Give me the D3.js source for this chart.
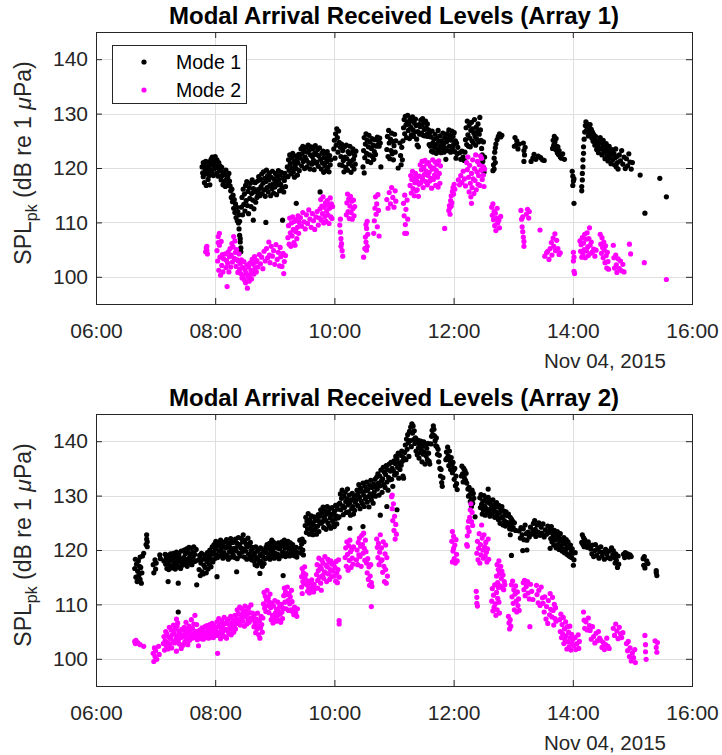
<!DOCTYPE html>
<html><head><meta charset="utf-8">
<script src="https://cdn.jsdelivr.net/npm/d3@7"></script>
<style>body{margin:0;background:#fff}svg{display:block}text{font-family:"Liberation Sans",Arial,Helvetica,sans-serif}</style>
</head><body><svg id="c" width="722" height="755"></svg>
<script>
const panelTitles = ["Modal Arrival Received Levels (Array 1)", "Modal Arrival Received Levels (Array 2)"];
const seriesNames = ["Mode 1", "Mode 2"];
const seriesColors = ["#000000", "#ff00ff"];
const yDomain = [95, 145];
const yTicks = [100, 110, 120, 130, 140];
const xStartHour = 6, xEndHour = 16;
const xTickHours = [6, 8, 10, 12, 14, 16];
const dateLabel = "Nov 04, 2015";

// [hour of day, SPL dB]
const a1Mode1 = [
[7.78,120.2],[7.79,119.1],[7.80,121.0],[7.80,118.4],[7.81,120.6],[7.82,117.3],[7.83,119.8],[7.84,121.2],[7.84,118.9],[7.85,116.8],[7.86,120.4],[7.87,119.2],[7.88,117.9],[7.88,121.1],[7.89,120.1],[7.90,118.6],[7.91,116.9],[7.91,119.7],
[7.92,120.8],[7.93,121.6],[7.94,119.3],[7.95,122.0],[7.96,120.5],[7.97,118.6],[7.98,121.4],[7.99,119.9],[8.00,122.1],[8.01,120.7],[8.02,119.0],[8.03,121.5],[8.04,120.2],[8.05,118.5],[8.06,121.0],[8.07,119.6],[8.08,120.4],
[8.09,119.4],[8.10,117.8],[8.11,120.1],[8.12,118.6],[8.13,116.9],[8.14,119.2],[8.15,117.5],[8.16,118.8],[8.17,116.6],[8.18,119.6],[8.19,117.9],[8.20,116.8],[8.21,118.3],[8.22,117.1],[8.23,119.0],[8.24,117.6],[8.25,116.7],
[8.26,115.8],[8.27,114.6],[8.28,116.1],[8.29,113.8],[8.30,115.0],[8.31,112.6],[8.32,114.2],[8.33,111.8],[8.34,113.4],[8.35,110.9],[8.36,112.8],[8.37,110.3],[8.38,112.0],[8.39,109.9],[8.40,111.4],[8.41,110.2],
[8.40,108.8],[8.41,107.6],[8.42,106.4],[8.43,105.3],[8.43,104.6],[8.42,107.0],
[8.44,112.8],[8.45,114.6],[8.46,111.4],[8.47,116.1],[8.48,113.3],[8.49,115.2],[8.50,112.1],[8.51,116.8],[8.52,114.0],[8.53,117.5],[8.54,113.1],[8.55,115.7],[8.56,111.6],[8.57,116.4],[8.58,114.4],[8.59,117.2],[8.60,112.9],[8.61,115.3],[8.62,117.8],[8.63,114.1],[8.64,116.2],[8.65,112.5],[8.66,115.6],[8.67,117.3],[8.68,113.7],[8.69,116.0],[8.70,114.6],
[8.64,110.4],[8.85,110.0],[9.13,110.4],
[8.71,117.6],[8.72,115.4],[8.73,118.4],[8.74,116.1],[8.75,114.9],[8.76,117.9],[8.77,116.6],[8.78,118.9],[8.79,115.3],[8.80,117.2],[8.81,119.3],[8.82,116.0],[8.83,118.1],[8.84,114.8],[8.85,117.5],[8.86,119.6],[8.87,116.4],[8.88,118.6],[8.89,115.6],[8.90,117.8],[8.91,119.1],[8.92,116.8],[8.93,114.9],[8.94,118.3],[8.95,116.2],[8.96,119.4],[8.97,117.1],[8.98,115.4],[8.99,118.0],[9.00,116.5],[9.01,119.0],[9.02,117.4],[9.03,115.1],[9.04,118.5],[9.05,116.9],[9.06,119.5],[9.07,117.8],[9.08,115.8],[9.09,118.7],[9.10,117.0],[9.11,119.2],[9.12,116.3],[9.14,118.2],[9.15,115.6],[9.16,117.7],[9.17,119.0],[9.18,116.6],[9.19,118.4],
[9.21,120.2],[9.22,118.4],[9.23,121.5],[9.24,119.6],[9.25,122.4],[9.26,120.8],[9.27,118.9],[9.28,121.9],[9.29,120.0],[9.30,122.7],[9.31,119.2],[9.32,121.2],[9.33,118.3],[9.34,120.6],[9.35,122.2],[9.36,119.9],[9.37,121.6],[9.38,118.7],[9.39,120.9],[9.40,122.5],[9.41,119.5],[9.36,113.5],
[9.43,121.8],[9.44,123.5],[9.45,120.4],[9.46,122.6],[9.47,124.0],[9.48,121.2],[9.49,123.1],[9.50,119.9],[9.51,122.0],[9.52,123.8],[9.53,121.5],[9.54,120.2],[9.55,122.9],[9.56,124.2],[9.57,121.0],[9.58,123.3],[9.59,119.8],[9.60,122.4],[9.61,123.9],[9.62,120.7],[9.63,122.1],[9.64,123.6],[9.65,121.4],[9.66,119.7],[9.67,122.8],[9.68,124.1],[9.69,120.9],[9.70,122.5],[9.71,121.1],[9.72,123.4],[9.73,120.3],[9.74,122.2],[9.75,123.7],[9.76,115.6],
[9.77,121.6],[9.78,119.8],[9.79,122.7],[9.80,120.9],[9.81,123.1],[9.82,119.2],[9.83,121.9],[9.84,120.4],[9.85,122.4],[9.86,119.5],[9.87,121.2],[9.88,123.0],[9.89,120.1],[9.90,121.8],[9.91,119.3],[9.92,122.3],[9.93,120.6],[9.94,121.5],
[9.99,123.5],[10.00,125.1],[10.01,121.8],[10.02,126.3],[10.03,124.2],[10.04,127.2],[10.05,125.6],[10.06,122.9],[10.07,126.8],[10.08,124.7],[10.09,120.6],[10.10,123.8],
[10.11,122.1],[10.12,124.4],[10.13,120.5],[10.14,123.2],[10.15,121.4],[10.16,119.3],[10.17,123.9],[10.18,122.0],[10.19,120.1],[10.20,124.2],[10.21,121.7],[10.22,119.6],[10.23,123.0],[10.24,120.8],[10.25,122.6],[10.26,124.0],[10.27,121.2],[10.28,119.2],[10.29,122.8],[10.30,120.4],[10.31,123.5],[10.32,121.6],[10.33,119.8],[10.34,122.3],[10.35,120.7],[10.36,123.1],
[10.48,120.2],[10.50,119.1],
[10.49,123.2],[10.50,125.6],[10.51,121.9],[10.52,124.4],[10.53,126.3],[10.54,122.7],[10.55,125.1],[10.56,121.2],[10.57,123.9],[10.58,126.0],[10.59,122.4],[10.60,124.8],[10.61,121.0],[10.62,123.6],[10.63,125.4],[10.64,122.1],[10.65,124.2],[10.66,121.6],[10.67,123.0],[10.68,125.2],[10.69,122.5],[10.70,124.0],
[10.72,125.7],[10.73,124.3],[10.74,125.1],[10.75,124.0],[10.76,125.5],[10.77,124.6],[10.78,120.2],
[10.88,123.4],[10.89,125.8],[10.90,122.1],[10.91,126.9],[10.92,124.6],[10.93,121.7],[10.94,125.3],[10.95,123.2],[10.96,126.4],[10.97,122.6],[10.98,124.9],[10.99,121.5],[11.00,124.1],[11.01,126.2],[11.02,122.9],[11.03,125.0],[11.07,120.0],
[11.10,124.6],[11.11,122.3],[11.12,120.6],[11.13,123.8],[11.14,121.5],[11.15,125.0],
[11.16,127.4],[11.17,128.9],[11.18,126.3],[11.19,129.5],[11.20,127.9],[11.21,125.6],[11.22,128.5],[11.23,129.7],[11.24,126.9],[11.25,128.2],[11.26,125.4],[11.27,129.1],[11.28,127.5],[11.29,126.1],[11.30,128.7],[11.31,129.4],[11.32,127.0],[11.33,125.8],[11.34,128.3],[11.35,126.6],[11.36,129.0],[11.37,127.8],[11.38,125.3],[11.39,124.2],[11.40,126.7],[11.41,123.9],[11.42,128.0],[11.43,126.2],
[11.44,127.6],[11.45,128.8],[11.46,126.4],[11.47,127.9],[11.48,129.1],[11.49,126.0],[11.50,128.3],[11.51,127.1],[11.52,125.9],[11.53,128.6],[11.54,127.4],[11.55,126.2],[11.56,128.1],[11.57,125.8],[11.58,127.0],[11.59,124.3],
[11.60,126.5],[11.61,124.0],[11.62,125.7],[11.63,123.1],[11.64,126.8],[11.65,124.6],[11.66,122.9],[11.67,125.3],[11.68,123.8],[11.69,126.2],[11.70,124.3],[11.71,122.7],[11.72,125.5],[11.73,123.5],[11.74,126.9],[11.75,124.9],[11.76,123.0],[11.77,125.9],[11.78,124.1],[11.79,122.8],[11.80,125.0],[11.81,123.4],[11.82,126.4],[11.83,124.4],[11.84,122.9],[11.85,125.6],[11.86,123.7],[11.87,121.6],
[11.88,124.8],[11.89,126.3],[11.90,123.2],[11.91,125.4],[11.92,127.0],[11.93,124.0],[11.94,126.0],[11.95,122.9],[11.96,125.1],[11.97,126.8],[11.98,123.6],[11.99,125.8],[12.00,124.3],[12.01,126.5],[12.02,123.0],[12.03,125.0],[12.04,121.8],[12.05,124.6],[12.06,122.6],[12.07,123.8],
[12.10,122.8],[12.12,121.6],[12.14,123.1],[12.16,122.0],[12.18,121.4],[12.19,122.9],
[12.20,125.2],[12.21,127.4],[12.22,124.3],[12.23,128.6],[12.24,126.1],[12.25,124.0],[12.26,127.8],[12.27,125.5],[12.28,123.9],[12.29,126.9],[12.30,128.4],[12.31,125.0],[12.32,127.2],[12.33,124.6],[12.34,126.4],[12.35,128.9],[12.36,125.8],[12.37,124.2],[12.38,127.5],[12.39,125.3],[12.40,126.7],[12.41,128.1],[12.42,124.8],[12.43,126.2],[12.44,129.3],[12.45,127.0],[12.46,125.1],
[12.47,123.6],[12.48,122.4],[12.49,121.2],[12.50,120.1],[12.51,119.2],[12.52,122.0],[12.50,124.8],
[12.66,119.5],[12.67,120.6],[12.68,121.8],[12.69,122.9],[12.70,123.7],[12.71,124.4],[12.73,125.2],[12.75,125.8],[12.77,126.3],[12.79,125.7],[12.81,126.0],[12.70,121.0],[12.68,119.8],
[13.02,124.0],[13.03,125.6],[13.05,124.2],[13.06,125.0],[13.08,123.5],[13.10,124.4],
[13.17,124.6],[13.18,123.2],[13.19,122.4],[13.20,123.8],[13.18,121.2],[13.30,121.2],[13.33,121.8],[13.35,122.5],[13.38,121.6],[13.42,122.2],[13.46,121.9],[13.49,121.5],[13.52,121.4],
[13.66,123.6],[13.67,125.1],[13.68,124.2],[13.69,125.8],[13.70,124.8],[13.71,123.4],[13.72,125.4],[13.73,124.0],[13.74,122.8],[13.75,123.9],[13.76,122.5],[13.77,123.2],[13.79,122.0],[13.81,121.8],[13.83,122.6],[13.86,121.6],
[13.99,119.4],[14.00,118.5],[14.01,117.6],[14.00,116.8],[14.02,118.0],[14.02,113.5],
[14.15,115.8],[14.15,116.6],[14.16,117.8],[14.16,119.0],[14.17,120.2],[14.17,121.5],[14.18,122.7],[14.18,123.9],[14.19,125.3],[14.20,126.6],
[14.21,127.8],[14.22,128.5],[14.23,126.9],[14.24,128.1],[14.25,127.2],[14.26,125.9],[14.27,127.6],[14.28,126.4],[14.29,128.0],[14.30,126.0],[14.31,127.1],[14.32,125.5],[14.33,126.6],[14.34,124.9],[14.35,126.2],[14.36,125.3],[14.37,124.2],[14.38,125.8],[14.39,124.5],[14.40,123.4],[14.41,125.0],[14.42,124.0],[14.43,122.8],[14.44,124.6],
[14.46,125.6],[14.47,123.5],[14.48,124.7],[14.49,122.4],[14.50,123.9],[14.51,125.1],[14.52,122.9],[14.53,124.2],[14.54,121.7],[14.55,123.3],[14.56,124.5],[14.57,122.2],[14.58,123.7],[14.59,121.3],[14.60,122.8],[14.61,124.0],[14.62,121.9],[14.63,123.1],[14.64,120.8],[14.65,122.5],[14.66,123.4],[14.67,121.5],
[14.69,122.7],[14.70,120.6],[14.71,121.9],[14.72,123.5],[14.73,120.2],[14.74,122.1],[14.75,121.0],[14.76,119.8],[14.78,122.4],[14.80,121.3],[14.82,123.2],[14.84,120.7],[14.86,122.0],[14.88,119.9],[14.90,121.7],[14.92,120.4],[14.94,122.6],[14.96,121.1],[14.98,119.8],[15.00,121.0],
[15.13,118.7],[15.21,111.7],[15.46,118.1],[15.57,114.7]
];

const a1Mode2 = [
[7.84,104.6],[7.85,105.3],[7.86,104.9],[7.87,104.2],[7.86,105.6],
[8.03,104.8],[8.04,102.9],[8.05,107.4],[8.06,101.2],[8.07,105.8],[8.08,103.6],[8.09,100.3],[8.10,106.5],[8.11,102.1],[8.12,104.1],[8.13,100.9],[8.14,103.3],[8.05,106.3],[8.07,108.0],
[8.17,104.2],[8.18,101.7],[8.19,103.0],[8.20,98.2],[8.21,102.5],[8.22,104.6],[8.23,100.9],[8.24,103.7],[8.25,105.2],[8.26,101.8],[8.27,104.0],[8.28,106.1],[8.29,102.7],[8.30,105.5],[8.31,107.4],[8.32,103.4],[8.33,106.6],[8.34,104.5],[8.35,101.9],[8.36,105.0],[8.37,103.1],[8.38,100.8],[8.39,102.9],[8.40,104.2],[8.41,101.4],
[8.42,102.4],[8.43,100.6],[8.44,103.1],[8.45,99.8],[8.46,101.7],[8.47,100.2],[8.48,102.8],[8.49,99.4],[8.50,101.3],[8.51,98.9],[8.52,100.7],[8.53,102.2],[8.54,97.9],[8.55,100.0],[8.56,101.8],[8.57,99.2],[8.58,102.5],[8.59,100.4],[8.60,101.2],[8.61,99.6],[8.62,103.2],[8.63,101.0],[8.64,102.3],[8.65,100.5],[8.66,103.7],[8.67,101.6],[8.68,102.7],[8.69,100.9],
[8.70,103.0],[8.72,101.8],[8.74,104.1],[8.76,102.4],[8.78,103.6],[8.80,101.5],[8.82,104.7],[8.84,102.9],[8.86,105.2],[8.88,103.5],[8.90,106.4],[8.91,104.0],[8.92,102.6],[8.94,105.6],[8.96,103.8],[8.98,104.8],[9.00,102.3],[9.02,105.9],[9.04,103.2],[9.06,104.5],[9.08,102.0],[9.09,105.4],[9.10,103.7],[9.12,101.9],[9.14,104.3],[9.15,100.6],[9.16,102.8],[9.18,103.9],
[9.22,107.2],[9.23,109.4],[9.24,106.0],[9.25,110.8],[9.26,108.1],[9.27,105.6],[9.28,109.9],[9.29,107.5],[9.30,111.0],[9.31,108.7],[9.32,106.3],[9.33,110.2],[9.34,105.8],[9.35,108.3],[9.36,110.5],[9.37,107.0],[9.38,109.1],[9.39,111.2],[9.40,108.0],[9.41,110.0],
[9.43,110.9],[9.45,109.3],[9.47,111.8],[9.49,110.1],[9.51,108.8],[9.53,111.4],[9.55,109.8],[9.57,112.3],[9.59,110.6],[9.61,109.1],[9.63,111.6],[9.65,110.3],[9.67,108.7],[9.69,111.0],[9.71,112.0],[9.73,109.5],[9.75,110.8],
[9.76,112.5],[9.77,114.2],[9.78,110.4],[9.79,113.0],[9.80,111.6],[9.81,114.7],[9.82,109.9],[9.83,112.8],[9.84,111.1],[9.85,113.6],[9.86,110.2],[9.87,112.1],[9.88,114.0],[9.89,111.4],[9.90,113.2],[9.91,109.8],[9.92,112.6],[9.93,114.5],[9.94,111.0],[9.95,113.4],[9.96,110.7],[9.97,112.9],
[10.09,109.5],[10.10,108.2],[10.11,107.0],[10.12,106.1],[10.13,104.8],[10.14,103.8],[10.11,105.6],[10.10,110.6],
[10.20,111.4],[10.21,113.6],[10.22,115.2],[10.23,112.0],[10.24,114.3],[10.25,110.7],[10.26,113.0],[10.27,114.8],[10.28,111.8],[10.29,113.9],[10.30,110.6],[10.31,112.5],[10.32,114.1],[10.33,111.2],[10.34,112.9],
[10.49,103.6],[10.51,105.2],[10.52,107.3],[10.53,106.4],[10.54,108.9],[10.55,110.2],[10.56,107.8],[10.55,105.6],[10.53,109.6],[10.54,104.9],
[10.66,108.0],[10.67,110.3],[10.68,112.6],[10.69,114.7],[10.70,111.5],[10.71,113.4],[10.72,109.2],[10.73,115.1],[10.74,112.2],[10.75,107.5],
[10.88,114.2],[10.90,112.6],[10.92,115.5],[10.94,113.4],[10.96,116.4],[10.98,114.6],[11.00,112.8],[11.02,115.8],[11.03,113.9],
[11.16,113.5],[11.17,111.2],[11.18,115.0],[11.19,109.6],[11.20,112.4],[11.21,108.0],[11.22,114.1],[11.23,110.6],[11.18,108.0],
[11.27,116.8],[11.28,118.6],[11.29,115.4],[11.30,117.9],[11.31,119.4],[11.32,116.2],[11.33,118.2],[11.34,114.9],[11.35,117.3],[11.36,119.0],[11.37,115.8],[11.38,117.6],[11.39,116.0],[11.40,118.4],[11.41,114.8],[11.42,117.0],
[11.43,118.5],[11.44,120.6],[11.45,117.3],[11.46,119.7],[11.47,121.2],[11.48,118.0],[11.49,116.4],[11.50,120.1],[11.51,118.8],[11.52,121.4],[11.53,117.5],[11.54,119.4],[11.55,120.8],[11.56,116.9],[11.57,118.6],[11.58,121.0],[11.59,119.2],[11.60,117.6],[11.61,120.3],[11.62,118.1],[11.63,116.3],[11.64,119.8],[11.65,121.5],[11.66,117.9],[11.67,120.0],[11.68,118.7],[11.69,121.1],[11.70,116.8],[11.71,119.5],[11.72,120.7],[11.73,118.3],[11.74,116.5],[11.75,121.3],[11.76,119.0],[11.77,117.2],[11.78,120.4],
[11.85,108.9],
[11.92,112.2],[11.93,113.1],[11.94,112.8],[11.95,114.0],[11.96,114.9],[11.97,113.6],[11.98,115.7],[11.99,116.4],[12.00,115.2],[12.01,117.0],[12.02,116.1],[11.94,111.5],[11.96,113.0],
[12.08,117.8],[12.10,116.9],[12.12,118.6],[12.14,117.3],[12.16,119.4],[12.18,118.0],[12.20,116.7],
[12.22,121.0],[12.23,119.7],[12.24,122.0],[12.25,118.3],[12.26,115.6],[12.27,120.5],[12.28,117.2],[12.29,114.7],[12.30,119.0],[12.31,116.4],[12.32,121.5],[12.33,118.0],[12.34,115.3],[12.35,119.9],[12.36,117.7],[12.37,122.4],[12.38,116.0],[12.39,119.3],[12.40,121.2],[12.41,117.0],[12.42,118.6],[12.43,120.6],[12.44,116.8],[12.45,122.2],[12.46,119.6],[12.47,121.8],[12.48,117.9],[12.49,120.3],[12.50,118.7],[12.51,116.6],[12.52,119.8],[12.30,113.5],
[12.64,112.8],[12.65,111.3],[12.66,113.4],[12.67,110.5],[12.68,112.0],[12.69,109.4],[12.70,111.7],[12.71,108.5],[12.72,110.8],[12.73,112.6],[12.74,109.9],[12.76,110.4],[12.77,109.0],[12.79,111.1],
[13.13,112.2],[13.14,110.6],[13.15,109.2],[13.16,108.3],[13.17,107.3],[13.18,106.5],[13.16,111.0],[13.18,105.6],[13.22,111.5],[13.24,112.4],[13.26,110.8],[13.27,112.0],
[13.45,108.6],
[13.53,103.8],[13.56,104.4],[13.58,104.7],[13.60,103.2],[13.62,105.2],[13.64,106.3],[13.65,104.0],[13.67,107.1],[13.68,105.6],[13.70,107.9],[13.71,104.8],[13.73,106.7],[13.75,105.2],[13.77,104.1],[13.79,104.4],
[14.01,104.5],[14.01,102.9],[14.02,101.0],[14.03,100.6],[14.02,103.6],
[14.12,106.6],[14.13,104.7],[14.14,105.9],[14.15,103.6],[14.16,107.2],[14.17,104.2],[14.18,106.2],[14.19,105.0],[14.20,107.8],[14.21,103.5],[14.22,106.9],[14.23,104.8],[14.24,108.1],[14.25,105.5],[14.26,103.9],[14.27,107.0],[14.28,109.0],[14.29,105.8],[14.30,104.3],[14.31,106.4],[14.33,104.6],[14.35,105.1],[14.37,103.8],[14.39,104.9],
[14.46,107.8],[14.47,106.0],[14.48,104.3],[14.49,107.2],[14.50,105.4],[14.51,103.5],[14.52,106.4],[14.53,104.9],[14.54,102.6],[14.55,105.7],[14.56,103.9],[14.57,101.6],[14.58,104.5],[14.59,102.8],[14.60,101.4],
[14.68,105.8],[14.69,103.5],[14.70,101.6],[14.72,104.0],[14.73,102.2],[14.74,100.8],[14.76,103.3],[14.78,101.5],[14.80,102.9],[14.82,101.1],[14.84,102.3],[14.86,100.9],
[14.95,106.0],[14.97,104.2],[15.20,102.6],[15.57,99.5]
];

const a2Mode1 = [
[6.65,116.6],[6.66,118.3],[6.67,115.0],[6.68,117.4],[6.69,114.2],[6.70,116.1],[6.71,118.0],[6.72,115.4],[6.73,117.0],[6.74,114.6],[6.75,116.8],[6.76,113.9],[6.77,115.8],[6.74,118.7],
[6.78,118.9],[6.80,119.4],[6.84,121.0],[6.85,122.0],[6.85,122.8],[6.86,121.5],[6.86,120.6],
[6.96,117.3],[6.97,115.8],[6.99,118.2],[7.00,116.5],[7.01,117.6],[7.07,119.1],[7.08,118.4],
[7.14,118.0],[7.16,119.2],[7.17,117.4],[7.18,118.6],[7.19,116.6],[7.20,119.0],[7.21,117.9],[7.22,116.4],[7.23,118.8],[7.24,117.2],[7.25,119.3],[7.26,118.1],[7.27,116.7],[7.28,118.5],[7.29,117.0],[7.30,119.4],[7.31,117.7],[7.32,118.9],[7.33,116.5],[7.34,118.2],[7.35,119.6],[7.36,117.3],[7.37,118.7],[7.38,116.9],[7.39,119.1],[7.40,117.8],[7.41,118.4],[7.42,116.6],[7.43,119.8],[7.44,118.0],[7.45,117.2],
[7.21,114.2],[7.38,113.9],[7.38,108.6],[7.69,113.6],
[7.47,118.6],[7.48,120.0],[7.49,117.4],[7.50,119.3],[7.51,118.1],[7.52,120.2],[7.53,117.0],[7.54,119.6],[7.55,118.4],[7.56,120.5],[7.57,117.6],[7.58,119.0],[7.59,118.2],[7.60,120.3],[7.61,117.3],[7.62,119.5],[7.63,118.7],[7.64,120.6],[7.65,117.9],[7.66,119.2],[7.67,118.0],[7.68,120.1],
[7.72,118.2],[7.73,116.4],[7.74,119.0],[7.75,115.3],[7.76,117.6],[7.77,119.4],[7.78,116.0],[7.79,118.3],[7.80,115.6],[7.81,117.2],[7.82,119.1],[7.83,116.8],[7.84,118.6],[7.85,115.8],[7.86,117.9],[7.87,119.5],[7.88,116.5],[7.89,118.8],[7.90,117.4],[7.91,120.0],[7.92,118.3],[7.93,116.9],[7.94,119.2],[7.95,120.6],[7.96,117.8],[8.03,115.1],
[7.97,119.6],[7.98,121.0],[7.99,118.4],[8.00,120.2],[8.01,121.6],[8.02,119.1],[8.03,120.7],[8.04,118.6],[8.05,121.3],[8.06,119.8],[8.07,120.9],[8.08,118.9],[8.09,121.8],[8.10,120.1],[8.11,119.3],[8.12,121.1],[8.13,118.5],[8.14,120.6],[8.15,119.5],[8.16,121.5],[8.17,118.8],[8.18,120.4],[8.19,121.9],[8.20,119.0],[8.21,120.8],[8.22,118.3],[8.23,121.2],[8.24,119.7],[8.25,120.5],[8.26,122.1],[8.27,118.7],[8.28,120.0],[8.29,121.4],
[8.30,119.2],[8.31,121.7],[8.32,120.3],[8.33,118.6],[8.34,122.0],[8.35,119.9],[8.36,121.3],[8.37,118.4],[8.38,120.7],[8.39,122.3],[8.40,119.4],[8.41,121.0],[8.42,118.9],[8.43,120.4],[8.44,122.1],[8.45,119.6],[8.46,121.5],[8.47,122.8],[8.48,120.2],[8.49,118.7],[8.50,121.8],[8.51,119.8],[8.52,121.1],[8.53,118.3],[8.54,120.6],[8.55,122.2],[8.56,119.2],[8.57,120.9],[8.58,118.5],[8.59,121.4],[8.60,119.9],[8.61,118.2],[8.62,120.5],[8.63,119.0],[8.36,116.0],
[8.64,120.3],[8.65,118.0],[8.66,119.4],[8.67,117.3],[8.68,120.6],[8.69,118.6],[8.70,117.1],[8.71,119.8],[8.72,118.2],[8.73,120.1],[8.74,117.6],[8.75,119.0],[8.76,120.4],[8.77,117.9],[8.78,119.3],[8.79,117.0],[8.80,118.8],[8.81,120.0],[8.82,117.5],[8.83,119.6],[8.84,118.4],[8.85,120.5],[8.75,115.7],
[8.86,119.5],[8.87,121.0],[8.88,118.6],[8.89,120.3],[8.90,119.1],[8.91,121.2],[8.92,118.3],[8.93,120.6],[8.94,119.7],[8.95,121.8],[8.96,118.9],[8.97,120.1],[8.98,121.4],[8.99,118.5],[9.00,120.8],[9.01,119.4],[9.02,121.0],[9.03,118.8],[9.04,120.4],[9.05,119.2],[9.06,121.3],[9.07,118.4],[9.08,120.2],
[9.10,120.7],[9.11,118.9],[9.12,121.5],[9.13,119.6],[9.14,120.9],[9.15,119.0],[9.16,121.8],[9.17,120.3],[9.18,118.8],[9.19,121.1],[9.20,119.4],[9.21,120.6],[9.22,121.6],[9.23,119.1],[9.24,120.2],[9.25,118.9],[9.26,121.3],[9.27,119.8],[9.28,120.5],[9.29,119.2],[9.30,121.0],[9.14,115.3],
[9.31,120.4],[9.32,119.0],[9.33,120.2],[9.34,118.9],[9.35,119.7],[9.36,120.5],[9.37,118.7],[9.38,119.5],
[9.42,121.8],[9.43,120.3],[9.44,119.4],[9.45,121.1],[9.46,122.0],[9.47,120.0],[9.48,119.1],[9.49,121.5],
[9.51,124.5],[9.52,126.0],[9.53,123.2],[9.54,125.3],[9.55,123.9],[9.56,126.7],[9.57,124.8],[9.58,122.9],[9.59,125.6],[9.60,124.0],[9.61,126.3],[9.62,123.5],[9.63,125.0],[9.64,122.8],[9.65,124.6],[9.66,126.1],[9.67,123.7],[9.68,125.4],[9.69,124.2],[9.70,122.9],[9.71,125.8],[9.72,124.4],[9.73,126.5],[9.74,123.4],[9.75,125.2],
[9.76,126.2],[9.77,127.4],[9.78,124.9],[9.79,126.8],[9.80,125.2],[9.81,127.9],[9.82,124.1],[9.83,126.0],[9.84,127.2],[9.85,125.5],[9.86,123.8],[9.87,126.6],[9.88,128.0],[9.89,125.0],[9.90,126.9],[9.91,124.5],[9.92,127.6],[9.93,125.9],[9.94,124.0],[9.95,126.4],[9.96,127.8],[9.97,125.3],[9.98,126.7],[9.99,124.6],[10.00,127.1],[10.01,125.7],[10.02,128.2],[10.03,126.3],[10.04,124.8],[10.05,127.5],[10.06,125.9],[10.07,128.4],[10.08,126.1],[10.00,124.3],
[10.09,128.6],[10.10,130.3],[10.11,127.4],[10.12,129.5],[10.13,131.0],[10.14,128.1],[10.15,126.5],[10.16,129.9],[10.17,127.8],[10.18,130.6],[10.19,128.9],[10.20,126.9],[10.21,129.4],[10.22,131.2],[10.23,128.3],[10.24,127.0],[10.25,130.1],[10.26,128.7],[10.27,126.4],[10.28,129.2],[10.29,127.6],[10.30,130.4],[10.31,128.0],[10.32,126.6],[10.33,129.6],[10.34,127.3],[10.35,128.8],[10.36,130.0],
[10.26,124.0],[10.48,124.3],
[10.37,129.3],[10.38,131.0],[10.39,128.2],[10.40,130.5],[10.41,132.0],[10.42,129.7],[10.43,127.6],[10.44,131.4],[10.45,129.0],[10.46,130.8],[10.47,128.5],[10.48,132.3],[10.49,130.1],[10.50,128.0],[10.51,131.7],[10.52,129.4],[10.53,130.9],[10.54,132.5],[10.55,128.8],[10.56,131.1],[10.57,129.8],[10.58,127.9],[10.59,131.9],[10.60,130.3],[10.61,132.8],[10.62,129.2],[10.63,131.5],[10.64,130.0],[10.65,128.6],[10.66,132.1],[10.67,130.7],[10.68,133.0],[10.69,129.9],[10.70,131.6],
[10.71,133.4],[10.72,131.2],[10.73,134.0],[10.74,132.3],[10.75,130.1],[10.76,133.6],[10.77,131.8],[10.78,134.7],[10.79,132.7],[10.80,130.6],[10.81,133.1],[10.82,135.2],[10.83,132.0],[10.84,134.3],[10.85,131.5],[10.86,133.9],[10.87,135.5],[10.88,132.5],[10.89,134.8],[10.90,131.0],[10.91,133.3],[10.92,135.8],[10.93,132.9],[10.94,134.5],[10.95,136.1],[10.96,133.0],[10.97,135.0],[10.98,131.7],
[10.77,126.4],[10.88,128.0],[11.05,127.4],
[10.99,134.6],[11.00,136.4],[11.01,133.8],[11.02,135.9],[11.03,137.2],[11.04,134.1],[11.05,136.7],[11.06,135.2],[11.07,137.8],[11.08,133.2],[11.09,136.0],[11.10,134.8],[11.11,137.4],[11.12,135.6],[11.13,138.2],[11.14,136.3],[11.15,133.6],[11.16,137.0],[11.16,133.2],
[11.18,137.9],[11.19,139.3],[11.20,136.6],[11.21,140.4],[11.22,138.5],[11.23,141.2],[11.24,139.7],[11.25,137.2],[11.26,141.8],[11.27,140.1],[11.28,142.6],[11.29,139.0],[11.30,143.2],[11.31,141.5],[11.32,142.8],[11.33,140.3],[11.34,141.9],[11.35,139.6],
[11.36,140.6],[11.37,138.2],[11.38,139.8],[11.39,137.5],[11.40,140.2],[11.41,138.8],[11.42,136.9],[11.43,139.4],[11.44,137.9],[11.45,140.0],[11.46,138.4],[11.47,136.2],[11.48,139.1],[11.49,137.6],[11.50,139.9],[11.51,138.0],[11.52,135.8],[11.53,139.3],[11.54,137.3],[11.55,138.7],[11.56,136.6],[11.57,139.6],[11.58,137.8],[11.59,136.3],[11.60,135.8],
[11.62,139.5],[11.63,140.9],[11.64,142.0],[11.65,141.2],[11.66,142.8],[11.67,142.2],[11.68,141.0],[11.69,140.1],[11.70,139.2],[11.71,140.6],
[11.72,139.0],[11.73,137.6],[11.74,138.5],[11.75,136.2],[11.76,137.4],[11.77,135.0],[11.78,133.6],[11.79,134.8],[11.80,132.4],[11.81,131.7],[11.82,133.3],
[11.87,136.6],[11.88,138.0],[11.89,136.9],[11.90,138.9],[11.91,137.3],[11.92,135.5],[11.93,138.2],[11.94,136.4],[11.95,134.8],[11.96,137.0],[11.97,135.6],[11.98,134.2],[11.99,136.1],
[12.00,134.7],[12.01,133.0],[12.02,135.0],[12.03,131.8],[12.04,133.6],[12.05,132.2],[12.06,131.1],
[12.13,133.6],[12.14,135.4],[12.15,134.0],[12.16,132.5],[12.17,135.0],[12.18,133.3],[12.19,134.6],[12.20,132.8],[12.21,134.1],[12.22,132.3],
[12.24,131.2],[12.25,129.9],[12.26,131.5],[12.27,130.1],[12.28,128.9],[12.29,130.8],[12.30,129.3],[12.31,131.0],[12.32,128.6],[12.33,130.4],[12.34,129.5],[12.30,128.0],[12.36,126.1],[12.58,131.2],
[12.44,129.6],[12.45,127.8],[12.46,130.2],[12.47,128.4],[12.48,126.6],[12.49,129.0],[12.50,127.3],[12.51,130.0],[12.52,128.1],[12.53,126.4],[12.54,129.4],[12.55,127.6],[12.56,128.9],[12.57,126.9],[12.58,129.7],[12.59,127.1],[12.60,128.6],[12.61,126.2],[12.62,129.1],[12.63,127.7],[12.64,128.3],[12.65,126.7],[12.66,129.2],[12.67,127.4],[12.68,128.0],[12.69,126.0],[12.70,128.5],
[12.71,127.0],[12.72,128.7],[12.73,126.3],[12.74,127.9],[12.75,125.6],[12.76,128.2],[12.77,126.8],[12.78,124.9],[12.79,127.5],[12.80,125.9],[12.81,128.0],[12.82,126.1],[12.83,124.6],[12.84,127.2],[12.85,125.4],[12.86,126.7],[12.87,124.4],[12.88,127.0],[12.89,125.1],[12.90,126.3],[12.91,124.7],[12.92,126.6],[12.93,125.0],[12.94,123.9],[12.95,126.0],[12.96,124.5],[12.97,125.7],[12.98,123.8],[12.99,125.3],[13.00,124.1],[13.02,125.0],[13.04,123.6],
[12.95,122.8],[12.97,119.0],
[13.10,123.5],[13.12,122.2],[13.13,124.1],[13.15,122.8],[13.17,123.9],[13.18,121.9],[13.20,124.6],[13.22,123.0],[13.23,121.8],[13.25,123.3],[13.27,122.4],[13.29,124.2],[13.31,122.9],[13.33,123.6],[13.23,120.0],[13.16,119.9],
[13.34,124.9],[13.35,123.0],[13.36,125.4],[13.37,123.8],[13.38,122.5],[13.40,124.6],[13.42,123.3],[13.43,125.0],[13.45,122.7],[13.47,124.2],[13.48,123.1],[13.50,124.8],[13.52,122.4],[13.54,123.7],[13.56,122.9],[13.58,124.4],[13.60,123.2],[13.62,120.3],
[13.62,123.8],[13.63,122.1],[13.64,124.3],[13.65,121.5],[13.66,123.2],[13.67,122.6],[13.68,120.9],[13.69,123.6],[13.70,121.8],[13.71,122.9],[13.72,120.4],[13.73,122.2],[13.74,123.4],[13.75,121.0],[13.76,122.5],[13.77,120.1],[13.78,121.7],[13.79,123.0],[13.80,120.7],[13.81,122.0],[13.82,119.8],[13.83,121.4],[13.84,120.2],[13.85,122.3],[13.86,119.5],[13.87,121.1],[13.88,120.0],[13.89,121.9],[13.90,119.2],[13.91,120.6],[13.92,121.5],[13.93,119.0],[13.94,120.4],[13.95,118.8],[13.96,120.9],[13.97,119.6],[13.98,118.6],[13.99,120.2],[14.00,119.4],[14.02,118.2],[14.04,119.5],[14.01,117.2],
[14.15,121.4],[14.16,122.8],[14.17,121.0],[14.18,122.3],[14.19,120.6],[14.20,121.9],[14.22,121.1],[14.24,120.5],[14.26,121.5],[14.28,120.8],
[14.30,120.2],[14.32,119.3],[14.33,120.9],[14.35,118.8],[14.37,119.9],[14.38,121.0],[14.40,119.0],[14.42,120.4],[14.44,118.5],[14.45,119.7],[14.47,120.6],[14.49,118.9],[14.51,119.6],[14.53,118.3],[14.55,120.1],[14.57,119.2],[14.59,118.6],[14.61,119.8],[14.63,118.4],[14.65,120.4],[14.67,119.1],
[14.68,119.9],[14.70,118.6],[14.71,117.6],[14.72,119.3],[14.73,118.1],[14.75,116.8],[14.76,118.9],[14.77,117.4],
[14.85,119.2],[14.87,118.6],[14.88,119.5],[14.90,118.9],[14.92,119.3],[14.94,118.7],[14.96,119.1],[14.98,118.8],
[15.18,118.4],[15.19,117.2],[15.20,118.8],[15.21,116.7],[15.24,118.0],[15.26,117.5],
[15.40,115.8],[15.41,115.3],[15.40,116.2]
];

const a2Mode2 = [
[6.65,103.2],[6.66,102.8],[6.67,103.4],[6.68,102.9],[6.70,103.0],[6.74,102.6],[6.80,102.3],
[6.96,101.0],[6.97,99.5],[6.98,102.0],[6.99,100.4],[7.00,101.5],[7.02,99.9],[7.05,102.3],[7.06,100.8],
[7.13,102.8],[7.14,104.1],[7.15,101.6],[7.16,103.3],[7.17,105.0],[7.18,102.4],[7.19,104.6],[7.20,103.0],[7.21,101.8],[7.22,104.0],[7.23,105.8],[7.24,102.6],[7.25,103.7],[7.26,105.3],[7.27,102.0],[7.28,104.4],[7.29,103.1],[7.30,106.2],[7.31,104.7],[7.32,102.9],[7.33,105.5],[7.34,103.6],[7.35,101.4],[7.36,104.2],[7.37,106.6],[7.38,103.3],[7.39,105.1],[7.40,102.7],[7.41,104.8],[7.42,103.9],[7.43,101.9],[7.44,105.4],[7.45,104.0],[7.46,102.5],[7.35,107.3],[7.36,106.0],
[7.47,104.3],[7.48,105.8],[7.49,103.1],[7.50,104.9],[7.51,106.7],[7.52,103.7],[7.53,105.4],[7.54,102.6],[7.55,104.5],[7.56,106.0],[7.57,103.4],[7.58,105.2],[7.59,104.1],[7.60,107.2],[7.61,103.8],[7.62,105.6],[7.63,104.6],[7.64,106.4],[7.65,103.9],[7.66,108.0],[7.67,105.0],[7.68,104.2],[7.69,106.3],[7.70,103.5],[7.71,105.1],[7.72,102.4],[7.73,104.7],
[7.74,104.0],[7.75,105.3],[7.76,103.7],[7.77,104.8],[7.78,105.7],[7.79,104.2],[7.80,103.6],[7.81,105.0],[7.82,104.4],[7.83,105.9],[7.84,103.9],[7.85,104.9],[7.86,106.1],[7.87,104.3],[7.88,105.5],[7.89,103.8],[7.90,105.2],[7.91,106.3],[7.92,104.6],[7.93,105.8],[7.94,104.0],[7.95,106.5],[7.96,105.1],[7.97,103.9],[7.98,106.0],[7.99,104.7],[8.00,105.5],[8.04,101.0],
[8.02,105.0],[8.03,106.8],[8.04,104.3],[8.05,105.9],[8.06,107.4],[8.07,104.8],[8.08,106.3],[8.09,103.7],[8.10,105.6],[8.11,107.0],[8.12,104.5],[8.13,106.1],[8.14,105.2],[8.15,107.6],[8.16,104.1],[8.17,106.5],[8.18,105.4],[8.19,103.8],[8.20,106.9],[8.21,105.1],[8.22,107.3],[8.23,104.6],[8.24,106.2],[8.25,105.7],[8.26,107.8],[8.27,104.4],[8.28,106.6],[8.29,105.3],[8.30,107.1],[8.31,104.9],[8.32,106.0],[8.33,108.0],[8.34,105.5],[8.35,106.8],
[8.36,107.4],[8.37,109.0],[8.38,106.5],[8.39,108.3],[8.40,107.0],[8.41,109.5],[8.42,106.2],[8.43,108.0],[8.44,107.3],[8.45,109.2],[8.46,106.9],[8.47,108.6],[8.48,107.7],[8.49,106.0],[8.50,109.7],[8.51,107.9],[8.52,108.8],[8.53,106.4],[8.54,108.2],[8.55,107.1],[8.56,109.4],[8.57,106.7],[8.58,108.5],[8.59,107.5],[8.60,109.9],[8.61,107.2],[8.62,108.4],
[8.64,107.6],[8.65,105.9],[8.66,108.2],[8.67,106.6],[8.68,104.8],[8.69,107.3],[8.70,105.5],[8.71,108.4],[8.72,106.1],[8.73,104.4],[8.74,107.0],[8.75,103.8],[8.76,105.7],[8.77,107.8],[8.78,106.3],[8.79,104.9],[8.80,107.5],
[8.81,110.1],[8.82,112.2],[8.83,109.3],[8.84,111.5],[8.85,108.7],[8.86,110.8],[8.87,112.6],[8.88,109.8],[8.89,111.2],[8.90,108.5],[8.91,110.4],[8.92,111.9],
[8.93,109.4],[8.94,107.2],[8.95,110.2],[8.96,108.0],[8.97,106.6],[8.98,109.7],[8.99,107.6],[9.00,110.7],[9.01,108.4],[9.02,106.9],[9.03,109.1],[9.04,107.8],[9.05,110.4],[9.06,108.8],[9.07,107.0],[9.08,109.6],[9.09,108.2],[9.10,106.7],[9.11,110.0],[9.12,108.6],[9.13,107.4],[9.14,109.3],
[9.15,111.6],[9.16,113.0],[9.17,110.4],[9.18,112.3],[9.19,109.2],[9.20,111.8],[9.21,113.2],[9.22,110.7],[9.23,108.9],[9.24,112.0],[9.25,110.1],[9.26,111.4],[9.27,109.0],[9.28,112.6],[9.29,110.5],[9.30,108.6],
[9.31,109.0],[9.32,108.1],[9.33,109.5],[9.35,108.4],[9.37,107.8],[9.38,109.2],
[9.45,115.1],[9.46,116.6],[9.47,114.2],[9.48,115.8],[9.49,113.8],[9.50,116.9],[9.51,114.7],[9.52,115.5],[9.45,113.2],[9.46,112.0],
[9.54,113.6],[9.55,112.4],[9.56,114.3],[9.57,113.0],[9.58,112.1],[9.59,113.9],[9.61,112.7],[9.62,114.5],[9.63,113.2],[9.65,112.3],[9.66,113.7],[9.68,112.9],
[9.70,115.5],[9.71,117.3],[9.72,114.4],[9.73,116.2],[9.74,118.5],[9.75,115.0],[9.76,117.0],[9.77,113.9],[9.78,116.6],[9.79,118.1],[9.80,115.3],[9.81,117.6],[9.82,114.8],[9.83,116.0],[9.84,118.8],[9.85,115.8],[9.86,117.2],[9.87,114.2],[9.88,116.9],[9.89,118.3],[9.90,115.6],[9.91,117.8],[9.92,114.6],[9.93,116.4],[9.94,118.0],[9.95,115.1],[9.96,117.4],[9.97,116.1],[9.72,113.0],[9.78,112.6],
[9.99,117.5],[10.00,115.2],[10.01,116.8],[10.02,114.3],[10.03,117.9],[10.04,115.8],[10.05,114.0],[10.06,116.4],[10.07,118.2],[10.08,115.0],[10.08,106.4],[10.08,107.0],
[10.18,118.6],[10.19,120.4],[10.20,117.0],[10.21,121.5],[10.22,119.2],[10.23,116.3],[10.24,120.8],[10.25,118.1],[10.26,121.8],[10.27,119.7],[10.28,116.8],[10.29,120.1],[10.30,118.5],[10.31,117.4],[10.32,120.6],
[10.37,118.2],[10.38,120.0],[10.39,117.3],[10.40,121.4],[10.41,119.1],[10.42,122.2],[10.43,118.8],[10.44,120.7],[10.45,117.0],[10.46,122.7],[10.47,121.0],[10.48,119.4],[10.49,123.1],[10.50,120.3],[10.51,118.1],[10.52,121.8],[10.53,119.7],
[10.54,117.6],[10.55,115.8],[10.56,118.4],[10.57,114.6],[10.58,116.9],[10.59,113.5],[10.60,115.2],[10.61,117.3],[10.62,114.0],[10.63,113.3],[10.62,109.6],
[10.71,122.0],[10.72,120.5],[10.73,118.6],[10.74,121.2],[10.75,117.3],[10.76,119.6],[10.77,122.8],[10.78,118.0],
[10.79,120.4],[10.80,118.2],[10.81,115.9],[10.82,121.5],[10.83,117.0],[10.84,114.2],[10.85,119.3],[10.86,116.4],[10.87,113.9],[10.88,118.6],[10.89,115.2],[10.86,120.9],
[10.96,129.8],[10.97,127.6],[10.98,125.4],[10.99,128.5],[11.00,123.6],[11.01,126.2],[11.02,122.0],[11.03,124.7],[11.04,122.9],[10.97,130.1],
[11.97,121.6],[11.98,123.4],[11.99,119.8],[12.00,122.5],[12.01,118.4],[12.02,120.9],[12.03,117.6],[12.04,121.9],[12.05,119.2],[12.06,118.0],[11.98,117.8],[12.00,120.3],
[12.22,121.0],[12.23,122.6],[12.24,124.1],[12.25,125.3],[12.23,120.7],[12.26,123.4],
[12.27,126.0],[12.28,127.4],[12.29,128.5],[12.30,125.2],[12.31,126.9],[12.32,124.5],
[12.39,119.4],[12.40,121.6],[12.41,118.2],[12.42,120.3],[12.43,123.0],[12.44,117.6],[12.45,121.0],[12.46,119.1],[12.47,124.6],[12.48,122.2],[12.49,120.0],[12.50,118.5],[12.51,122.8],[12.52,120.6],[12.53,118.9],[12.54,121.4],[12.55,119.6],[12.56,117.8],[12.57,120.2],[12.58,122.0],[12.59,118.3],
[12.38,112.4],[12.39,111.3],[12.39,110.2],[12.40,109.7],
[12.64,110.6],[12.65,112.9],[12.66,108.8],[12.67,111.7],[12.68,109.5],[12.69,113.6],[12.70,110.1],[12.71,108.0],[12.72,112.2],[12.73,109.0],[12.74,111.1],[12.75,113.1],[12.76,110.4],[12.77,108.4],
[12.72,115.2],[12.73,117.3],[12.74,114.0],[12.75,116.4],[12.76,118.0],[12.77,115.7],[12.78,113.4],[12.79,117.0],[12.80,114.8],[12.81,116.1],[12.82,113.0],[12.83,115.4],[12.84,112.7],[12.85,114.2],[12.86,113.6],
[12.92,107.8],[12.93,106.6],[12.94,105.5],[12.95,107.2],[12.96,106.0],
[12.97,113.6],[12.98,111.4],[12.99,114.3],[13.00,110.2],[13.01,112.7],[13.02,109.0],[13.03,111.9],[13.04,113.4],[13.05,110.6],[13.06,108.6],[13.07,112.3],[13.08,109.8],[13.09,111.0],[13.10,108.9],
[13.17,114.0],[13.18,112.7],[13.19,114.4],[13.20,111.6],[13.22,113.3],[13.24,114.2],[13.25,112.1],[13.27,111.0],[13.29,113.7],[13.31,112.4],[13.33,110.9],[13.28,105.9],
[13.39,113.5],[13.40,111.8],[13.42,110.3],[13.43,112.6],[13.45,109.8],[13.47,113.2],[13.49,111.2],
[13.50,110.2],[13.52,108.6],[13.53,111.4],[13.55,107.3],[13.56,109.6],[13.58,106.5],[13.59,110.7],[13.61,108.1],[13.62,112.0],[13.63,109.1],[13.65,107.7],[13.66,111.3],[13.67,108.9],[13.68,106.2],[13.69,110.0],[13.70,107.4],[13.71,109.4],[13.72,106.9],
[13.78,107.2],[13.79,105.0],[13.80,108.2],[13.81,103.9],[13.82,106.3],[13.83,104.6],[13.84,107.6],[13.85,102.8],[13.86,105.5],[13.87,103.5],[13.88,106.8],[13.89,104.2],[13.90,101.8],[13.91,105.9],[13.92,103.1],[13.93,104.9],[13.94,102.2],[13.95,106.0],[13.96,103.8],[13.97,101.6],[13.98,104.5],[13.99,102.9],[14.00,103.6],
[14.02,102.4],[14.04,103.9],[14.05,101.7],[14.07,102.8],[14.09,104.4],[14.10,101.9],[14.11,103.2],
[14.18,108.6],[14.19,107.1],[14.20,105.6],[14.22,106.8],[14.24,105.3],[14.26,107.5],[14.28,106.1],
[14.29,105.2],[14.31,103.6],[14.33,105.9],[14.35,104.1],[14.37,102.9],[14.39,104.7],[14.41,103.3],[14.43,105.0],[14.45,103.8],
[14.47,103.4],[14.49,102.1],[14.51,103.0],[14.53,101.7],[14.55,102.6],[14.57,103.8],[14.59,102.3],[14.61,101.9],
[14.68,105.6],[14.70,104.3],[14.72,106.4],[14.74,105.1],[14.76,103.7],[14.78,105.8],[14.80,104.6],[14.82,103.9],[14.84,104.8],
[14.90,102.8],[14.92,101.5],[14.93,103.2],[14.95,100.4],[14.96,102.0],[14.98,99.6],[15.00,101.1],[15.02,100.2],[15.04,101.7],[15.05,99.3],
[15.21,104.3],[15.22,102.6],[15.22,101.3],[15.23,99.9],
[15.38,103.3],[15.40,102.1],[15.41,101.2],[15.42,103.0]
];

const panels = [
  {title: panelTitles[0], series: [a1Mode1, a1Mode2], top: 32, bottom: 304, legend: true},
  {title: panelTitles[1], series: [a2Mode1, a2Mode2], top: 414, bottom: 686, legend: false}
];

const svg = d3.select("#c");
const left = 96, right = 692;
const axisColor = "#262626", gridColor = "#dfdfdf";
const base = new Date(2015, 10, 4);
const toDate = h => new Date(base.getTime() + h * 3600000);
const x = d3.scaleTime().domain([toDate(xStartHour), toDate(xEndHour)]).range([left, right]);
const xTickDates = xTickHours.map(toDate);
const fmt = d3.timeFormat("%H:%M");

panels.forEach(p => {
  const y = d3.scaleLinear().domain(yDomain).range([p.bottom, p.top]);
  const g = svg.append("g");
  // grid
  g.append("g").selectAll("line").data(xTickDates).join("line")
    .attr("x1", d => Math.round(x(d)) + 0.5).attr("x2", d => Math.round(x(d)) + 0.5)
    .attr("y1", p.top).attr("y2", p.bottom).attr("stroke", gridColor).attr("stroke-width", 1);
  g.append("g").selectAll("line").data(yTicks).join("line")
    .attr("y1", d => Math.round(y(d)) + 0.5).attr("y2", d => Math.round(y(d)) + 0.5)
    .attr("x1", left).attr("x2", right).attr("stroke", gridColor).attr("stroke-width", 1);

  // points
  p.series.forEach((s, i) => {
    g.append("g").selectAll("circle").data(s).join("circle")
      .attr("cx", d => x(toDate(d[0]))).attr("cy", d => y(d[1]))
      .attr("r", 2.6).attr("fill", seriesColors[i]);
  });

  // axes
  const styleAxis = sel => {
    sel.selectAll("path").attr("stroke", axisColor).attr("stroke-width", 1);
    sel.selectAll("line").attr("stroke", axisColor);
    sel.selectAll("text").attr("fill", axisColor).style("font-size", "21px")
      .style("font-family", '"Liberation Sans", Arial, Helvetica, sans-serif');
  };
  g.append("g").attr("transform", `translate(0,${p.bottom})`)
    .call(d3.axisBottom(x).tickValues(xTickDates).tickFormat(fmt).tickSizeInner(-6).tickSizeOuter(0).tickPadding(19))
    .call(styleAxis);
  g.append("g").attr("transform", `translate(0,${p.top})`)
    .call(d3.axisTop(x).tickValues(xTickDates).tickFormat("").tickSizeInner(-6).tickSizeOuter(0))
    .call(styleAxis);
  g.append("g").attr("transform", `translate(${left},0)`)
    .call(d3.axisLeft(y).tickValues(yTicks).tickSizeInner(-6).tickSizeOuter(0).tickPadding(8))
    .call(styleAxis);
  g.append("g").attr("transform", `translate(${right},0)`)
    .call(d3.axisRight(y).tickValues(yTicks).tickFormat("").tickSizeInner(-6).tickSizeOuter(0))
    .call(styleAxis);
  g.selectAll(".domain").attr("shape-rendering", "crispEdges");

  // date label
  g.append("text").attr("x", 544).attr("y", p.bottom + 64)
    .attr("fill", axisColor).style("font-size", "20.5px").text(dateLabel);

  // title
  g.append("text").attr("x", (left + right) / 2).attr("y", p.top - 8)
    .attr("text-anchor", "middle").attr("fill", "#000")
    .style("font-size", "24px").style("font-weight", "bold").text(p.title);

  // y label
  const yl = g.append("text")
    .attr("transform", `translate(31,${(p.top + p.bottom) / 2 - 5}) rotate(-90)`)
    .attr("text-anchor", "middle").attr("fill", axisColor).style("font-size", "23px");
  yl.append("tspan").text("SPL");
  yl.append("tspan").attr("dy", 6).style("font-size", "16px").text("pk");
  yl.append("tspan").attr("dy", -6).text(" (dB re 1 ");
  yl.append("tspan").style("font-style", "italic").text("\u03bc");
  yl.append("tspan").text("Pa)");

  // legend
  if (p.legend) {
    const lg = g.append("g");
    lg.append("rect").attr("x", 112.5).attr("y", 45.5).attr("width", 134).attr("height", 58)
      .attr("fill", "#fff").attr("stroke", axisColor).attr("stroke-width", 1);
    seriesNames.forEach((n, i) => {
      const cy = 62 + i * 28;
      lg.append("circle").attr("cx", 144).attr("cy", cy).attr("r", 2.6).attr("fill", seriesColors[i]);
      lg.append("text").attr("x", 176).attr("y", cy).attr("dy", "0.35em")
        .attr("fill", "#000").style("font-size", "19.5px").text(n);
    });
  }
});
</script>
</body></html>
